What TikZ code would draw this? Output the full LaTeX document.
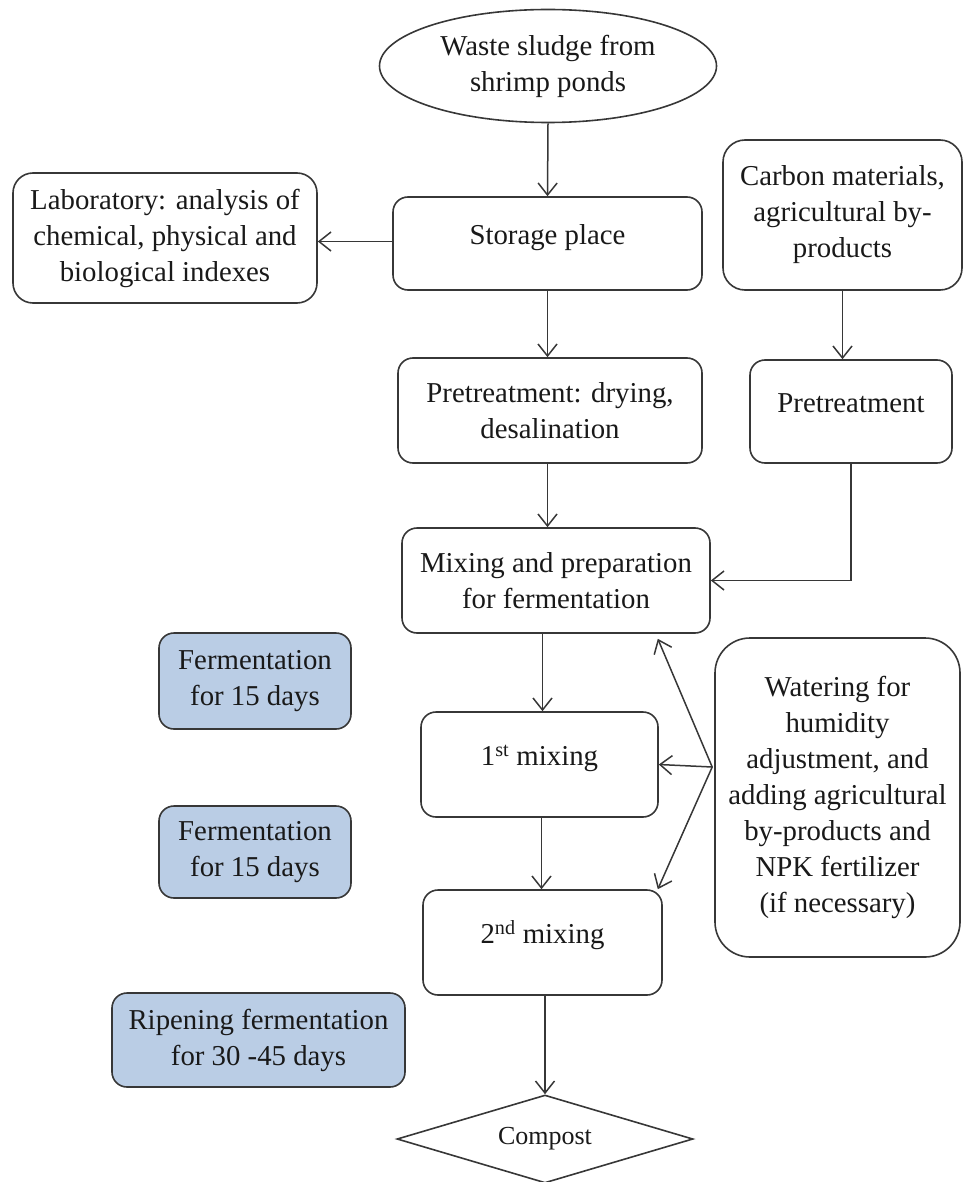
\documentclass[tikz,border=0pt]{standalone}
\usepackage{fontspec}
\setmainfont{Liberation Serif}
\usetikzlibrary{arrows.meta,shapes.geometric}
\definecolor{edge}{RGB}{55,55,55}
\definecolor{fermblue}{RGB}{186,205,229}
\definecolor{txt}{RGB}{25,25,25}
\begin{document}
\begin{tikzpicture}[x=1pt,y=1pt,
  every node/.style={font=\fontsize{28.8}{36}\selectfont, text=txt, align=center, inner sep=2pt},
  box/.style={draw=edge, line width=1.6pt, rounded corners=15pt, fill=white},
  raised/.style={text height=20pt, text depth=18pt},
  ferm/.style={box, fill=fermblue},
  conn/.style={draw=edge, line width=1.5pt, -{Straight Barb[length=12pt,width=19pt,line width=1.5pt]}}
]
\useasboundingbox (0,0) rectangle (967,-1182);
\node[ellipse, draw=edge, line width=1.6pt, minimum width=337pt, minimum height=113pt, inner sep=0pt] (src) at (548,-66) {Waste sludge from\\shrimp ponds};
\node[box, raised, minimum width=309pt, minimum height=93pt] (store) at (547.5,-243.5) {Storage place};
\node[box, rounded corners=20pt, minimum width=304pt, minimum height=130pt] (lab) at (165,-238) {Laboratory: analysis of\\chemical, physical and\\biological indexes};
\node[box, rounded corners=22pt, minimum width=239pt, minimum height=150pt] (carb) at (842.5,-215) {Carbon materials,\\agricultural by-\\products};
\node[box, raised, minimum width=202pt, minimum height=103pt] (pre2) at (851,-411.5) {Pretreatment};
\node[box, minimum width=304pt, minimum height=105pt] (pre1) at (550,-410.5) {Pretreatment: drying,\\desalination};
\node[box, minimum width=308pt, minimum height=105pt] (mix) at (556,-580.5) {Mixing and preparation\\for fermentation};
\node[ferm, minimum width=192pt, minimum height=96pt] (f1) at (255,-681) {Fermentation\\for 15 days};
\node[box, raised, minimum width=237pt, minimum height=105pt] (m1) at (539.5,-764.5) {1\textsuperscript{st} mixing};
\node[ferm, minimum width=192pt, minimum height=92pt] (f2) at (255,-852) {Fermentation\\for 15 days};
\node[box, rounded corners=35pt, minimum width=245pt, minimum height=319pt] (water) at (837.5,-797.5) {Watering for\\humidity\\adjustment, and\\adding agricultural\\by-products and\\NPK fertilizer\\(if necessary)};
\node[box, raised, minimum width=239pt, minimum height=105pt] (m2) at (542.5,-942.5) {2\textsuperscript{nd} mixing};
\node[ferm, minimum width=293pt, minimum height=94pt] (ripe) at (258.5,-1040) {Ripening fermentation\\for 30 -45 days};
\node[diamond, draw=edge, line width=1.6pt, minimum width=296pt, minimum height=88pt, aspect=3.36, inner sep=0pt, font=\fontsize{26}{30}\selectfont] (comp) at (545,-1139) {Compost};
\coordinate (wsrc) at ([xshift=-2pt,yshift=30.5pt]water.west);
\coordinate (tmix) at ([xshift=-53pt,yshift=-5pt]mix.south east);
\coordinate (tm2) at ([xshift=-5pt]m2.north east);
\draw[conn] (src.south) -- (store.north);
\draw[conn] ([yshift=2pt]store.west) -- ([yshift=2pt]store.west -| lab.east);
\draw[conn] (store.south) -- (store.south |- pre1.north);
\draw[conn] (store.south |- pre1.south) -- (store.south |- mix.north);
\draw[conn] (carb.south) -- (carb.south |- pre2.north);
\draw[conn] (pre2.south) |- (mix.east);
\draw[conn] ([xshift=3pt]m1.north |- mix.south) -- ([xshift=3pt]m1.north);
\draw[conn] ([xshift=2pt]m1.south) -- ([xshift=2pt]m1.south |- m2.north);
\draw[conn] (comp.north |- m2.south) -- (comp.north);
\draw[conn] (wsrc) -- (tmix);
\draw[conn] (wsrc) -- (m1.east);
\draw[conn] (wsrc) -- (tm2);
\end{tikzpicture}
\end{document}
